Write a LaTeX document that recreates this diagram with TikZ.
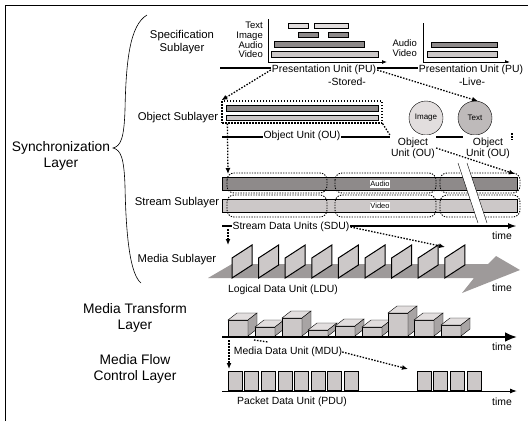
\documentclass[tikz,border=0pt]{standalone}
\usepackage{fontspec}
\setmainfont{Liberation Sans}
\usetikzlibrary{arrows.meta}
\definecolor{barpale}{HTML}{E2DEDE}
\definecolor{barlight}{HTML}{CCC8C8}
\definecolor{bardark}{HTML}{8E8A8A}
\definecolor{sidegray}{HTML}{A8A4A4}
\definecolor{bandgray}{HTML}{9E9A9A}
\definecolor{circdark}{HTML}{BEBABA}
\begin{document}
\begin{tikzpicture}[x=1pt,y=-1pt,
  biglbl/.style={font=\fontsize{13.8}{16.5}\selectfont,align=center,inner sep=0pt},
  sublbl/.style={font=\fontsize{11.3}{13}\selectfont,align=center,inner sep=0pt},
  medialbl/.style={font=\fontsize{9.5}{9.7}\selectfont,align=right,inner sep=0pt},
  unitlbl/.style={font=\fontsize{10.4}{11}\selectfont,align=center,inner sep=0pt},
  unitbox/.style={unitlbl,fill=white,inner xsep=1pt,inner ysep=2pt},
  smalllbl/.style={font=\fontsize{7.5}{8}\selectfont,inner sep=0.8pt},
  dotline/.style={line width=1.3pt,dash pattern=on 1.5pt off 1.5pt},
  dotarrow/.style={dotline,-{Latex[length=6pt,width=5pt]}},
  dotseg/.style={line width=0.9pt,dash pattern=on 1.3pt off 1.3pt,rounded corners=7pt},
  unitline/.style={line width=1.8pt}]
\useasboundingbox (0,0) rectangle (528,421);
% frame
\draw[line width=0.8pt] (5,421) -- (5,5) -- (528,5);
% brace and layer names
\draw[line width=0.6pt] (147,15) .. controls (130,25) and (126,60) .. (125,110)
  .. controls (124,138) and (121,146) .. (113,148)
  .. controls (121,150) and (124,158) .. (125,186)
  .. controls (126,236) and (130,274) .. (141,283);
\node[biglbl] (sync) at (61,156) {Synchronization\\Layer};
\node[sublbl] (spec) at (182,42) {Specification\\Sublayer};
\node[sublbl] (objsub) at (178,118) {Object Sublayer};
\node[sublbl] (strsub) at (177,203) {Stream Sublayer};
\node[sublbl] (medsub) at (177,260) {Media Sublayer};
\node[biglbl] (trans) at (135,318) {Media Transform\\Layer};
\node[biglbl] (flow) at (135,369) {Media Flow\\Control Layer};

% specification sublayer, stored
\node[medialbl,anchor=east] (media) at (263,40) {Text\\Image\\Audio\\Video};
\draw[line width=0.8pt,-{Latex[length=5pt,width=4pt]}] (268,19) |- (387,62);
\draw[fill=barpale] (288,23) rectangle (308,28);
\draw[fill=barpale] (314,23) rectangle (348,28);
\draw[fill=bardark] (298,32) rectangle (318,37);
\draw[fill=bardark] (328,32) rectangle (348,37);
\draw[fill=bardark] (274,41) rectangle (364,47);
\draw[fill=barlight] (271,51) rectangle (378,57);
% specification sublayer, live
\node[medialbl,anchor=east] (livemedia) at (417,48) {Audio\\Video};
\draw[line width=0.8pt,-{Latex[length=5pt,width=4pt]}] (423,23) |- (510,62);
\draw[fill=bardark] (431,42) rectangle (497,47);
\draw[fill=barlight] (427,51) rectangle (497,57);
\draw[unitline] (220,68) -- (418,68);
\node[unitbox] (pu) at (324,70) {Presentation Unit (PU)};
\node[unitbox] (pulive) at (471,70) {Presentation Unit (PU)};
\node[unitlbl] (stored) at (347,82) {-Stored-};
\node[unitlbl] (live) at (472,82) {-Live-};

% object sublayer
\draw[fill=bardark] (226,105) rectangle (378,111);
\draw[fill=barlight] (226,115) rectangle (378,120);
\node[dotline,draw,minimum width=160pt,minimum height=22pt,inner sep=0pt] (objbox) at (302,112) {};
\node[circle,draw,fill=barpale,minimum size=34pt,inner sep=0pt,font=\fontsize{8}{9}\selectfont] (imgc) at (426,118) {Image};
\node[circle,draw,fill=circdark,minimum size=34pt,inner sep=0pt,font=\fontsize{8}{9}\selectfont] (txtc) at (475,118) {Text};
\draw[dotarrow] (pu.west) -- (objbox.north west);
\draw[dotarrow] (pu.east) -- (txtc.80);
\draw[unitline] (222,137) -- (463,137);
\node[unitbox] (ou) at (302,136) {Object Unit (OU)};
\node[unitbox,inner ysep=2.5pt] (ou2) at (413,148) {Object\\Unit (OU)};
\node[unitbox,inner ysep=2.5pt] (ou3) at (488,148) {Object\\Unit (OU)};
\draw[dotline] (objbox.south east) -- (ou2.north west);
\draw[dotline] (512,133) -- (512,140);

% stream sublayer
\coordinate (strtop) at (228,174);
\coordinate (strend) at (515,174);
\draw[dotarrow] ([xshift=6pt]objbox.south west) -- (strtop);
\draw[dotarrow] (ou2.east) -- (strend);
\draw[fill=bardark] (222,177) rectangle (517,190);
\draw[fill=barlight] (222,199) rectangle (517,212);
\foreach \a/\b in {227/327,335/436,440/520} {
  \draw[dotseg] (\a,173) rectangle (\b,193);
  \draw[dotseg] (\a,195) rectangle (\b,217);
}
\node[smalllbl,fill=white] (audio) at (380,184) {Audio};
\node[smalllbl,fill=white] (video) at (380,206) {Video};
\fill[white] (458,163) -- (467,163) -- (487,223) -- (478,223) -- cycle;
\draw (458,163) -- (478,223);
\draw (467,163) -- (487,223);
\draw[unitline,-{Latex[length=9pt,width=6pt]}] (222,226) -- (517,226);
\node[unitbox] (sdu) at (291,227) {Stream Data Units (SDU)};
\node[unitlbl] (time1) at (502,236) {time};

% media sublayer
\coordinate (sdustart) at (228,229);
\coordinate (ldutop) at (228,245);
\coordinate (ldulast) at (445,247);
\draw[dotarrow] (sdustart) -- (ldutop);
\draw[dotarrow] (sdu.east) -- (ldulast);
\fill[bandgray] (208,278) -- (232,264) -- (488,264) -- (496,256) -- (520,270) -- (462,293) -- (474,278) -- cycle;
\foreach \i in {0,...,8} {
  \pgfmathsetmacro\fx{232+26.6*\i}
  \draw[fill=barlight,line width=1pt] (\fx,278) -- (\fx,258) -- (\fx+20,245) -- (\fx+20,265) -- cycle;
}
\node[unitlbl] (ldu) at (283,290) {Logical Data Unit (LDU)};
\node[unitlbl] (time2) at (502,288) {time};

% media transform layer
\foreach \bx/\by in {228/320,255/327,282/318,308/330,335/326,362/327,388/313,414/320,441/325} {
  \draw[fill=barlight] (\bx,336) rectangle (\bx+20,\by);
  \draw[fill=barpale] (\bx,\by) -- (\bx+9,\by-7) -- (\bx+29,\by-7) -- (\bx+20,\by) -- cycle;
  \draw[fill=sidegray] (\bx+20,\by) -- (\bx+29,\by-7) -- (\bx+29,329) -- (\bx+20,336) -- cycle;
}
\draw[line width=2.8pt,-{Latex[length=12pt,width=10pt]}] (222,337) -- (517,337);
\node[unitlbl] (mdu) at (288,352) {Media Data Unit (MDU)};
\node[unitlbl] (time3) at (502,347) {time};

% media flow control layer
\coordinate (mdustart) at (229,340);
\coordinate (pdutop) at (229,369);
\coordinate (pdugap) at (408,369);
\draw[dotarrow] (mdustart) -- (pdutop);
\draw[dotline] (254,340) -- (268,342);
\draw[dotarrow] (mdu.east) -- (pdugap);
\foreach \i in {0,...,7}
  \draw[fill=barlight] (228+16.6*\i,390) rectangle ++(14,-19);
\foreach \i in {0,...,3}
  \draw[fill=barlight] (417+16.6*\i,390) rectangle ++(14,-19);
\draw[line width=1pt,-{Latex[length=7pt,width=5pt]}] (222,391) -- (517,391);
\node[unitlbl] (pdu) at (292,402) {Packet Data Unit (PDU)};
\node[unitlbl] (time4) at (502,402) {time};
\end{tikzpicture}
\end{document}
